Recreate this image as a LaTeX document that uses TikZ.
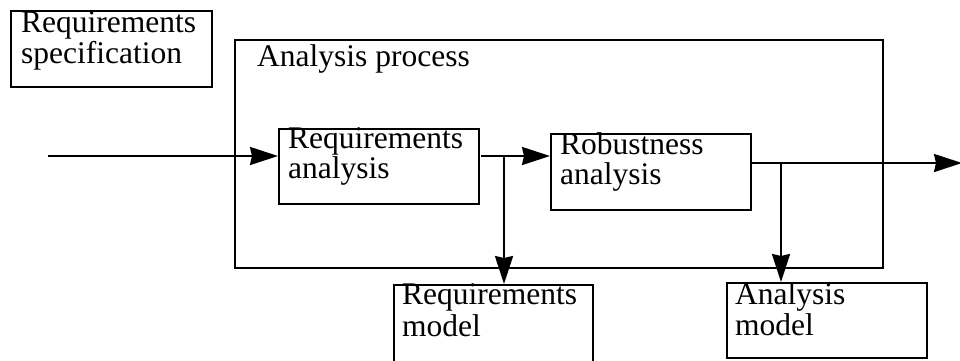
\documentclass[tikz,border=0pt]{standalone}
\usepackage{fontspec}
\setmainfont{Liberation Serif}
\usetikzlibrary{arrows.meta}
\begin{document}
\begin{tikzpicture}[x=1pt,y=-1pt,
  box/.style={draw=black, line width=2pt, anchor=north west, inner sep=0pt},
  lbl/.style={anchor=base west, inner sep=0pt, font=\fontsize{31.5}{31.5}\selectfont},
  wire/.style={line width=2pt},
  arr/.style={wire, -{Stealth[length=28pt,width=18pt,inset=2pt]}}]
\useasboundingbox (0,0) rectangle (960,360);
% boxes
\node[box, minimum width=201pt, minimum height=76pt] (spec) at (10,10) {};
\node[box, minimum width=648pt, minimum height=228pt] (proc) at (234,39) {};
\node[box, minimum width=200pt, minimum height=75pt] (reqA) at (278,128) {};
\node[box, minimum width=200pt, minimum height=76pt] (rob) at (550,133) {};
\node[box, minimum width=199pt, minimum height=80pt] (reqM) at (393,284) {};
\node[box, minimum width=200pt, minimum height=75pt] (anaM) at (726,282) {};
% texts
\node[lbl] (specT1) at (21,32) {Requirements};
\node[lbl] (specT2) at (21,63) {specification};
\node[lbl] (procT) at (257,66) {Analysis process};
\node[lbl] (reqAT1) at (288,148) {Requirements};
\node[lbl] (reqAT2) at (288,178) {analysis};
\node[lbl] (robT1) at (560,154) {Robustness};
\node[lbl] (robT2) at (560,184) {analysis};
\node[lbl] (reqMT1) at (402,304) {Requirements};
\node[lbl] (reqMT2) at (402,336) {model};
\node[lbl] (anaMT1) at (735,304) {Analysis};
\node[lbl] (anaMT2) at (735,335) {model};
% connectors
\coordinate (in) at (48,156);
\coordinate (a1) at (481,156);
\coordinate (b1) at (504,156);
\coordinate (a2) at (750,163);
\coordinate (b2) at (781,163);
\coordinate (out) at (962,163);
\draw[arr] (in) -- (in -| reqA.west);
\draw[arr] (a1) -- (a1 -| rob.west);
\draw[arr] (b1) -- (b1 |- reqM.north);
\draw[arr] (a2) -- (out);
\draw[arr] (b2) -- (b2 |- anaM.north);
\end{tikzpicture}
\end{document}
